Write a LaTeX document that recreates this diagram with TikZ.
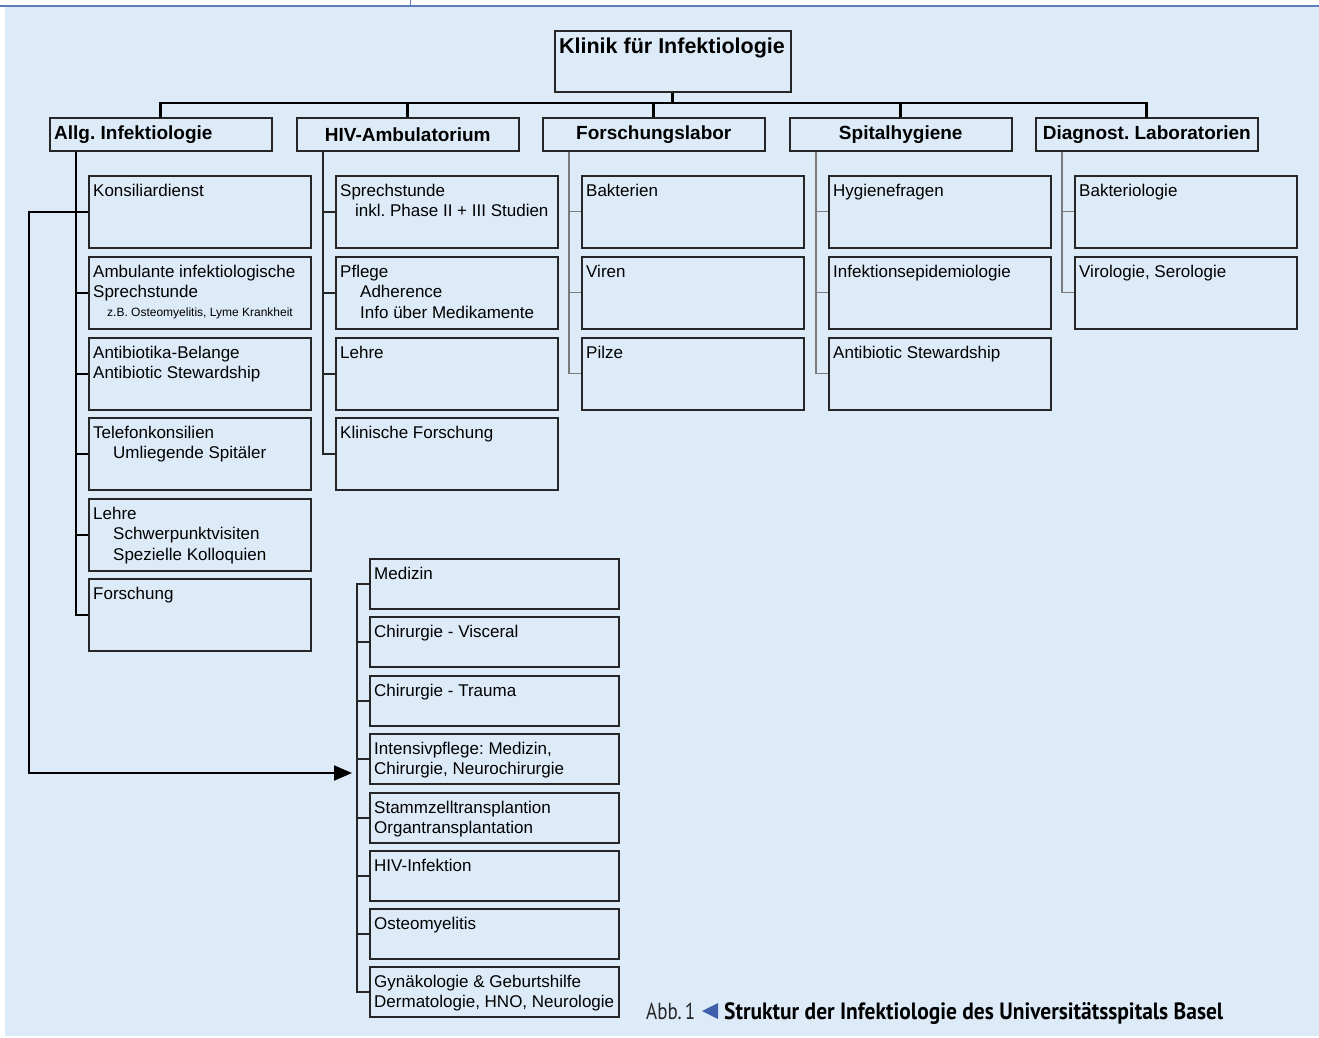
\documentclass[tikz,border=0pt]{standalone}
\usepackage{fontspec}
\setmainfont{Liberation Sans}
\newfontfamily\capfont{PT Sans}
\usepackage{graphicx}
\usetikzlibrary{arrows.meta}
\frenchspacing
\definecolor{bgc}{HTML}{DDEBF8}
\definecolor{boxc}{HTML}{262626}
\definecolor{grayc}{HTML}{7A7A7A}
\definecolor{topc}{HTML}{5B7DBA}
\definecolor{tric}{HTML}{3F5FAA}
\tikzset{
  box/.style={draw=boxc, line width=1.5pt, fill=bgc, inner sep=0pt, anchor=north west},
  hbox/.style={draw=boxc, line width=1.5pt, fill=bgc, inner sep=0pt, anchor=north west, minimum width=222pt, minimum height=33pt},
  txt/.style={font=\fontsize{17}{20.5}\selectfont, align=left, anchor=north west, inner sep=0pt, text=black},
  htxt/.style={font=\bfseries\fontsize{19}{22}\selectfont, inner sep=0pt, text=black},
  smalltxt/.style={font=\fontsize{12}{14}\selectfont, anchor=west, inner sep=0pt, text=black},
  captxt/.style={font=\capfont, anchor=base west, inner sep=0pt},
  bus/.style={draw=black, line width=2.6pt},
  spinek/.style={draw=black, line width=2.2pt},
  spineb/.style={draw=boxc, line width=1.5pt},
  spineg/.style={draw=grayc, line width=1.1pt},
  arrline/.style={draw=black, line width=2pt, -{Triangle[length=18pt,width=15pt]}},
}
\newcommand\obox[6]{%
  \node[box, minimum width=#4pt, minimum height=#5pt] (#1) at (#2,#3) {};
  \node[txt] (#1t) at ([xshift=5pt,yshift=-8.5pt]#1.north west) {#6};}
\begin{document}
\begin{tikzpicture}[x=1pt,y=-1pt]
\useasboundingbox (0,0) rectangle (1319,1037);
\fill[white] (0,0) rectangle (1319,1037);
\fill[bgc] (5,7) rectangle (1319,1036);
\draw[topc, line width=2pt] (0,5.5) -- (1319,5.5);
\draw[topc, line width=0.8pt] (410,0) -- (410,5);

% top box
\node[box, minimum width=236pt, minimum height=61pt] (top) at (554,30) {};
\node[htxt, font=\bfseries\fontsize{21.5}{24}\selectfont] (topt) at (672,47.5) {Klinik für Infektiologie};

% headers
\node[hbox] (h1) at (49,117) {};
\node[htxt, anchor=west] (h1t) at ([xshift=5pt]h1.west) {Allg. Infektiologie};
\node[hbox] (h2) at (296,117) {};
\node[htxt] (h2t) at (h2.center) {HIV-Ambulatorium};
\node[hbox] (h3) at (542,117) {};
\node[htxt] (h3t) at (h3.center) {Forschungslabor};
\node[hbox] (h4) at (789,117) {};
\node[htxt] (h4t) at (h4.center) {Spitalhygiene};
\node[hbox] (h5) at (1035,117) {};
\node[htxt] (h5t) at (h5.center) {Diagnost. Laboratorien};

% bus
\coordinate (busy) at (0,103);
\draw[bus] (top.south) -- (top.south |- busy);
\draw[bus, line cap=rect] (h1.north) -- (h1.north |- busy) -- (h5.north |- busy) -- (h5.north);
\draw[bus] (h2.north) -- (h2.north |- busy);
\draw[bus] (h3.north) -- (h3.north |- busy);
\draw[bus] (h4.north) -- (h4.north |- busy);

% Allg column
\obox{a1}{88}{175}{222}{72}{Konsiliardienst}
\obox{a2}{88}{256}{222}{72}{Ambulante infektiologische\\Sprechstunde}
\node[smalltxt] (a2s) at (107,313) {z.B. Osteomyelitis, Lyme Krankheit};
\obox{a3}{88}{337}{222}{72}{Antibiotika-Belange\\Antibiotic Stewardship}
\obox{a4}{88}{417}{222}{72}{Telefonkonsilien\\\hspace*{20pt}Umliegende Spitäler}
\obox{a5}{88}{498}{222}{72}{Lehre\\\hspace*{20pt}Schwerpunktvisiten\\\hspace*{20pt}Spezielle Kolloquien}
\obox{a6}{88}{578}{222}{72}{Forschung}

% HIV column
\obox{b1}{335}{175}{222}{72}{Sprechstunde\\\hspace*{15pt}inkl. Phase II + III Studien}
\obox{b2}{335}{256}{222}{72}{Pflege\\\hspace*{20pt}Adherence\\\hspace*{20pt}Info über Medikamente}
\obox{b3}{335}{337}{222}{72}{Lehre}
\obox{b4}{335}{417}{222}{72}{Klinische Forschung}

% Forschungslabor
\obox{c1}{581}{175}{222}{72}{Bakterien}
\obox{c2}{581}{256}{222}{72}{Viren}
\obox{c3}{581}{337}{222}{72}{Pilze}

% Spitalhygiene
\obox{d1}{828}{175}{222}{72}{Hygienefragen}
\obox{d2}{828}{256}{222}{72}{Infektionsepidemiologie}
\obox{d3}{828}{337}{222}{72}{Antibiotic Stewardship}

% Diagnost.
\obox{e1}{1074}{175}{222}{72}{Bakteriologie}
\obox{e2}{1074}{256}{222}{72}{Virologie, Serologie}

% lower group
\obox{l1}{369}{558}{249}{50}{Medizin}
\obox{l2}{369}{616}{249}{50}{Chirurgie - Visceral}
\obox{l3}{369}{675}{249}{50}{Chirurgie - Trauma}
\obox{l4}{369}{733}{249}{50}{Intensivpflege: Medizin,\\Chirurgie, Neurochirurgie}
\obox{l5}{369}{792}{249}{50}{Stammzelltransplantion\\Organtransplantation}
\obox{l6}{369}{850}{249}{50}{HIV-Infektion}
\obox{l7}{369}{908}{249}{50}{Osteomyelitis}
\obox{l8}{369}{966}{249}{50}{Gynäkologie \& Geburtshilfe\\Dermatologie, HNO, Neurologie}

% spines
\draw[spinek] ([xshift=27pt]h1.south west) |- (a6.west);
\foreach \k in {a1,a2,a3,a4,a5} \draw[spinek] (\k.west) -- ++(-12,0);
\draw[spineb] ([xshift=27pt]h2.south west) |- (b4.west);
\foreach \k in {b1,b2,b3} \draw[spineb] (\k.west) -- ++(-12,0);
\draw[spineg] ([xshift=27pt]h3.south west) |- (c3.west);
\foreach \k in {c1,c2} \draw[spineg] (\k.west) -- ++(-12,0);
\draw[spineg] ([xshift=27pt]h4.south west) |- (d3.west);
\foreach \k in {d1,d2} \draw[spineg] (\k.west) -- ++(-12,0);
\draw[spineg] ([xshift=27pt]h5.south west) |- (e2.west);
\draw[spineg] (e1.west) -- ++(-12,0);
\coordinate (ls) at ([xshift=-12pt]l1.west);
\draw[spineb] (l1.west) -- (ls) |- (l8.west);
\foreach \k in {l2,l3,l4,l5,l6,l7} \draw[spineb] (\k.west) -- ++(-12,0);

% arrow
\coordinate (arrs) at ([xshift=-12pt]a1.west);
\coordinate (arrc) at (29,773);
\coordinate (arrtip) at (352,773);
\draw[arrline] (arrs) -| (arrc) -- (arrtip);

% caption
\node[captxt, text=black!85] (cap1) at (646,1019) {\resizebox{49pt}{16.5pt}{Abb.\,1}};
\fill[tric] (702,1011) -- (718,1003) -- (718,1019) -- cycle;
\node[captxt, text=black] (cap2) at (724,1019) {\resizebox{499pt}{17pt}{\bfseries Struktur der Infektiologie des Universitätsspitals Basel}};
\end{tikzpicture}
\end{document}
